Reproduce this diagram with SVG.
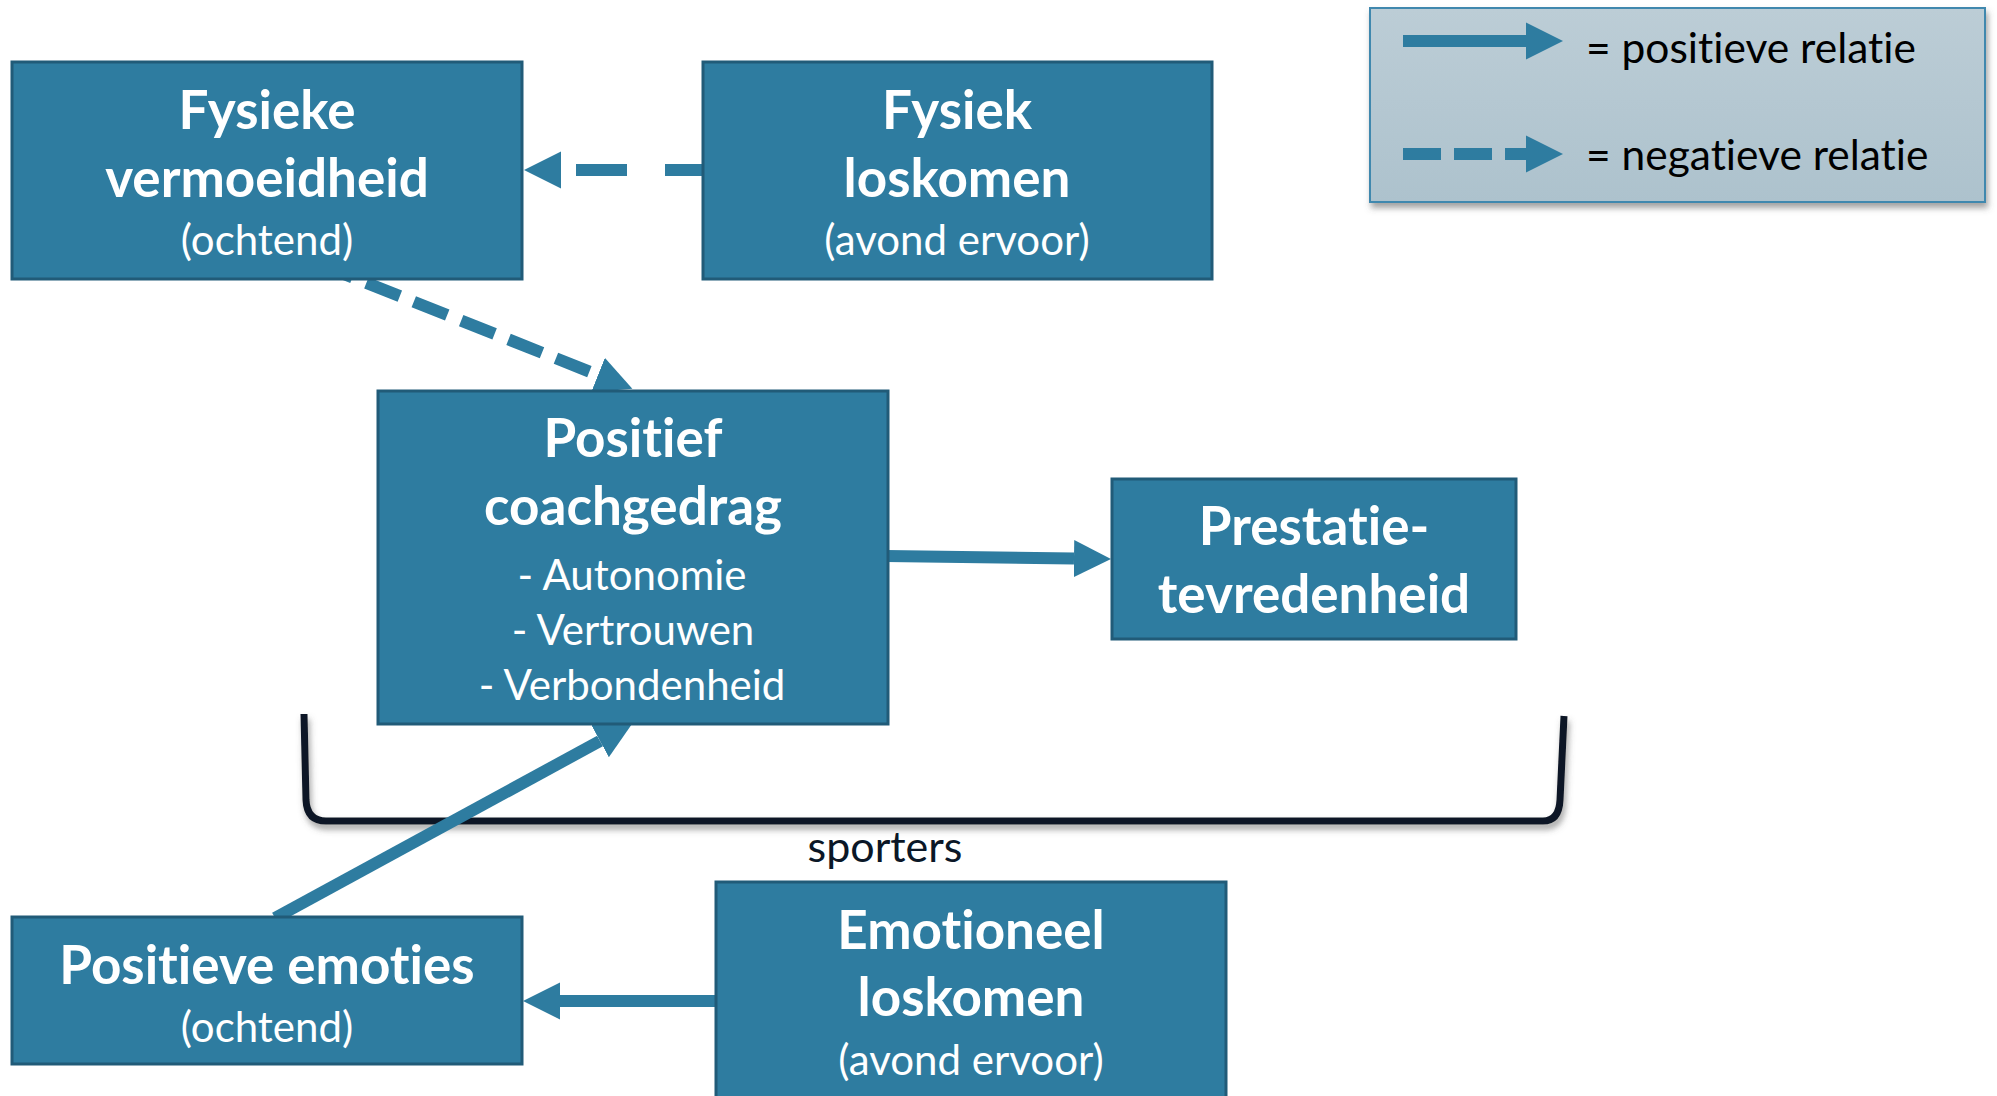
<svg xmlns="http://www.w3.org/2000/svg" width="1997" height="1096" viewBox="0 0 1997 1096">
  <defs>
    <style>
      .box { fill: #2e7ca0; stroke: #215b78; stroke-width: 3; }
      .t { font-family: Lato, "Open Sans", sans-serif; fill: #ffffff; text-anchor: middle; font-variant-ligatures: none; }
      .b { font-weight: 700; font-size: 53px; }
      .r { font-weight: 400; font-size: 42px; }
      .conn { stroke: #2e7ca0; stroke-width: 12; fill: none; }
      .leg { font-family: Lato, "Open Sans", sans-serif; font-size: 42.5px; fill: #000000; font-variant-ligatures: none; }
    </style>
    <marker id="head" markerUnits="userSpaceOnUse" markerWidth="38" markerHeight="38" refX="0" refY="18.5" orient="auto" viewBox="0 0 38 37">
      <path d="M0,0 L37,18.5 L0,37 Z" fill="#2e7ca0"/>
    </marker>
    <linearGradient id="legbg" x1="0" y1="0" x2="0" y2="1">
      <stop offset="0" stop-color="#bccdd6"/>
      <stop offset="1" stop-color="#adc2cd"/>
    </linearGradient>
    <filter id="shadow" x="-5%" y="-20%" width="110%" height="160%">
      <feDropShadow dx="2" dy="5" stdDeviation="3" flood-color="#555555" flood-opacity="0.55"/>
    </filter>
  </defs>

  <g id="legend">
    <rect x="1370" y="8" width="615" height="194" fill="url(#legbg)" stroke="#3f88ae" stroke-width="2" filter="url(#shadow)"/>
    <line class="conn" x1="1403" y1="41" x2="1526" y2="41" marker-end="url(#head)"/>
    <line class="conn" x1="1403" y1="154" x2="1526" y2="154" stroke-dasharray="38 13" marker-end="url(#head)"/>
    <text class="leg" x="1586" y="63">= positieve relatie</text>
    <text class="leg" x="1586" y="170">= negatieve relatie</text>
  </g>

  <g id="group-bracket">
    <path d="M304,714 L306,800 Q307,821 326,821 L1543,821 Q1559,821 1560,800 L1564,716" fill="none" stroke="#0b1727" stroke-width="7" filter="url(#shadow)"/>
    <text x="885" y="862" text-anchor="middle" font-family="Lato, 'Open Sans', sans-serif" font-size="43" fill="#0b1727">sporters</text>
  </g>

  <g id="connectors">
    <line class="conn" x1="716" y1="170" x2="561" y2="170" stroke-dasharray="51 38" marker-end="url(#head)"/>
    <line class="conn" x1="319" y1="264" x2="598" y2="375" stroke-dasharray="36 15" marker-end="url(#head)"/>
    <line class="conn" x1="886" y1="556" x2="1074" y2="558.5" marker-end="url(#head)"/>
    <line class="conn" x1="275" y1="918" x2="600" y2="741" marker-end="url(#head)"/>
    <line class="conn" x1="718" y1="1001" x2="560" y2="1001" marker-end="url(#head)"/>
  </g>

  <g id="node-fysieke-vermoeidheid">
    <rect class="box" x="12" y="62" width="510" height="217"/>
    <text class="t b" x="267" y="129">Fysieke</text>
    <text class="t b" x="267" y="197">vermoeidheid</text>
    <text class="t r" x="267" y="255">(ochtend)</text>
  </g>

  <g id="node-fysiek-loskomen">
    <rect class="box" x="703" y="62" width="509" height="217"/>
    <text class="t b" x="957" y="129">Fysiek</text>
    <text class="t b" x="957" y="197">loskomen</text>
    <text class="t r" x="957" y="255">(avond ervoor)</text>
  </g>

  <g id="node-positief-coachgedrag">
    <rect class="box" x="378" y="391" width="510" height="333"/>
    <text class="t b" x="633" y="457">Positief</text>
    <text class="t b" x="633" y="525">coachgedrag</text>
    <text class="t r" x="632" y="590">- Autonomie</text>
    <text class="t r" x="633" y="645">- Vertrouwen</text>
    <text class="t r" x="632" y="700">- Verbondenheid</text>
  </g>

  <g id="node-prestatietevredenheid">
    <rect class="box" x="1112" y="479" width="404" height="160"/>
    <text class="t b" x="1314" y="545">Prestatie-</text>
    <text class="t b" x="1314" y="613">tevredenheid</text>
  </g>

  <g id="node-positieve-emoties">
    <rect class="box" x="12" y="917" width="510" height="147"/>
    <text class="t b" x="267" y="984">Positieve emoties</text>
    <text class="t r" x="267" y="1042">(ochtend)</text>
  </g>

  <g id="node-emotioneel-loskomen">
    <rect class="box" x="716" y="882" width="510" height="230"/>
    <text class="t b" x="971" y="949">Emotioneel</text>
    <text class="t b" x="971" y="1016">loskomen</text>
    <text class="t r" x="971" y="1075">(avond ervoor)</text>
  </g>
</svg>
